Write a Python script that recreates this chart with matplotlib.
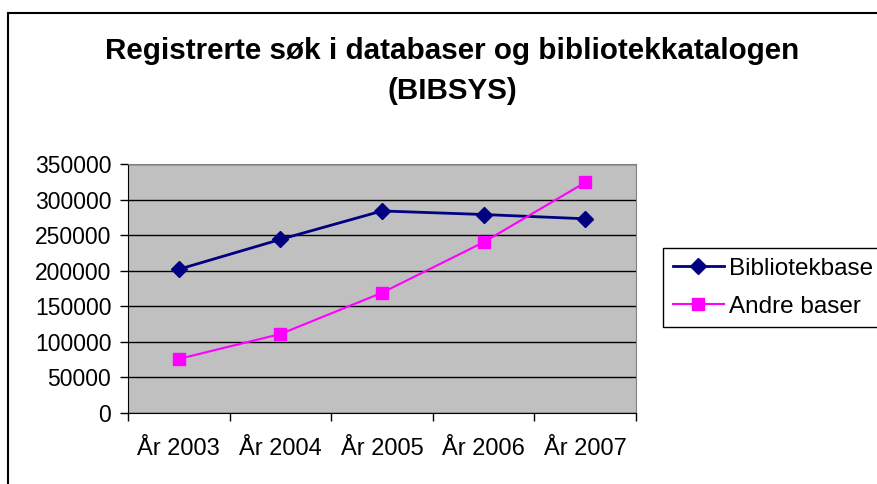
import matplotlib
matplotlib.use("Agg")
import matplotlib.pyplot as plt
from matplotlib.patches import Rectangle

plt.rcParams['font.family'] = ['Liberation Sans', 'DejaVu Sans']

years = ["År 2003", "År 2004", "År 2005", "År 2006", "År 2007"]
bibliotekbase = [202000, 244000, 284000, 279000, 273000]
andre_baser = [76000, 111000, 169000, 240000, 324000]

W, H = 877, 484
fig = plt.figure(figsize=(W / 100, H / 100), dpi=100)
ax = fig.add_axes([128 / W, 1 - 413 / H, (636 - 128) / W, (413 - 164) / H])

# outer chart border (runs off right and bottom edges)
fig.patches.append(Rectangle((8 / W, -0.1), 1.2, 0.1 + 1 - 13 / H, transform=fig.transFigure,
                             fill=False, edgecolor="black", lw=1.5))

x = list(range(len(years)))
ax.set_facecolor("#C0C0C0")
ax.plot(x, bibliotekbase, color="#000080", lw=2, marker="D", ms=8, label="Bibliotekbase")
ax.plot(x, andre_baser, color="#FF00FF", lw=1.5, marker="s", ms=9, label="Andre baser")

ax.set_xlim(-0.5, len(years) - 0.5)
ax.set_ylim(0, 350000)
ax.set_yticks(range(0, 350001, 50000))
ax.yaxis.grid(True, color="black", lw=1)
ax.set_axisbelow(True)

ax.set_xticks([i - 0.5 for i in range(len(years) + 1)])
ax.set_xticklabels([])
ax.set_xticks(x, minor=True)
ax.set_xticklabels(years, minor=True)
ax.tick_params(axis="x", which="minor", length=0, pad=18, labelsize=17)
ax.tick_params(axis="x", which="major", length=6, width=1, color="black", direction="out")
ax.tick_params(axis="y", length=6, width=1, labelsize=16.5, pad=6)

for side in ["top", "right"]:
    ax.spines[side].set_color("#808080")
for side in ["left", "bottom"]:
    ax.spines[side].set_color("black")

fig.text(452 / W, 1 - 51 / H, "Registrerte søk i databaser og bibliotekkatalogen",
         ha="center", va="center", fontsize=21.3, fontweight="bold")
fig.text(452 / W, 1 - 91 / H, "(BIBSYS)",
         ha="center", va="center", fontsize=21.3, fontweight="bold")

leg = fig.legend(loc="upper left", bbox_to_anchor=(663 / W, 1 - 248 / H), fontsize=17.5,
                 frameon=True, fancybox=False, edgecolor="black", framealpha=1,
                 handlelength=2.1, borderpad=0.4, labelspacing=0.65, handletextpad=0.2,
                 borderaxespad=0)
leg.get_frame().set_linewidth(1)

fig.savefig("out.png", dpi=100)
